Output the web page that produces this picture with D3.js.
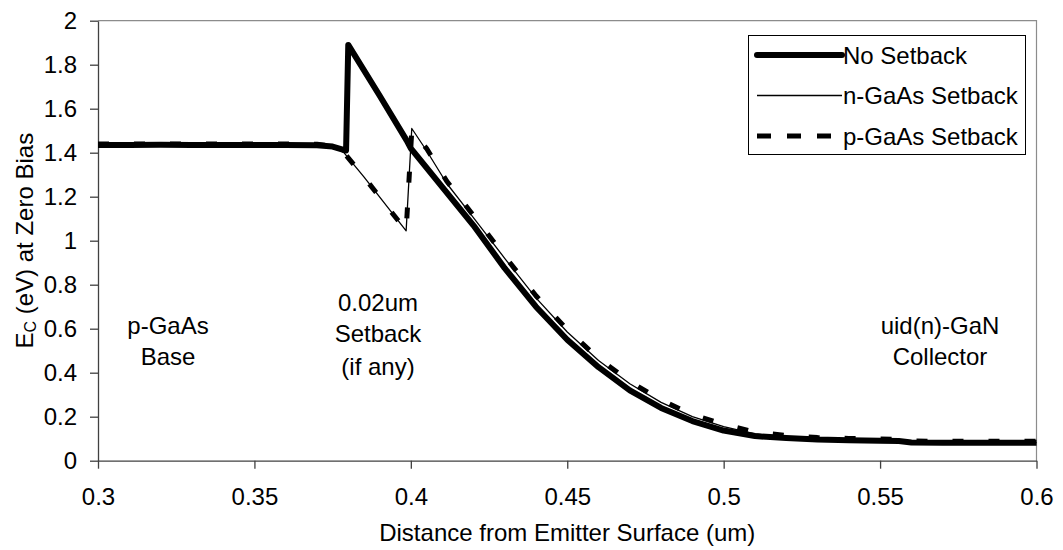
<!DOCTYPE html>
<html>
<head>
<meta charset="utf-8">
<script src="https://cdn.jsdelivr.net/npm/d3@7"></script>
<style>
body{margin:0;background:#fff}
svg text{font-family:"Liberation Sans",Arial,sans-serif;font-size:24px;fill:#000}
</style>
</head>
<body>
<svg id="chart" width="1063" height="550"></svg>
<script>
// distance from emitter surface (um) and conduction band edge (eV)
let noSetbackX = [0.30,0.31,0.32,0.33,0.34,0.35,0.36,0.37,0.375,0.3785,0.3793,0.380,0.390,0.3987,0.40,0.41,0.42,0.43,0.44,0.45,0.46,0.47,0.48,0.49,0.50,0.51,0.52,0.53,0.54,0.55,0.556,0.56,0.57,0.58,0.59,0.60]
let noSetbackY = [1.435,1.435,1.436,1.435,1.435,1.435,1.435,1.434,1.428,1.413,1.41,1.89,1.66,1.455,1.42,1.245,1.07,0.875,0.70,0.55,0.425,0.32,0.24,0.18,0.137,0.112,0.103,0.096,0.093,0.091,0.090,0.083,0.082,0.082,0.082,0.082]

let nSetbackX = [0.30,0.31,0.32,0.33,0.34,0.35,0.36,0.37,0.375,0.3786,0.385,0.3985,0.4003,0.405,0.4115,0.42,0.43,0.44,0.45,0.46,0.47,0.48,0.49,0.50,0.51,0.52,0.53,0.54,0.55,0.556,0.56,0.57,0.58,0.59,0.60]
let nSetbackY = [1.435,1.435,1.435,1.435,1.435,1.435,1.435,1.434,1.428,1.40,1.29,1.045,1.51,1.41,1.26,1.105,0.92,0.74,0.585,0.455,0.35,0.265,0.20,0.155,0.122,0.107,0.098,0.094,0.092,0.091,0.084,0.082,0.082,0.082,0.082]

let pSetbackX = [0.30,0.31,0.32,0.33,0.34,0.35,0.36,0.37,0.375,0.3786,0.385,0.3985,0.4003,0.405,0.4115,0.42,0.43,0.44,0.45,0.46,0.47,0.48,0.49,0.50,0.51,0.52,0.53,0.54,0.55,0.556,0.56,0.57,0.58,0.59,0.60]
let pSetbackY = [1.44,1.44,1.44,1.44,1.44,1.44,1.44,1.438,1.43,1.40,1.29,1.045,1.50,1.42,1.27,1.115,0.93,0.75,0.595,0.465,0.36,0.275,0.21,0.165,0.13,0.115,0.105,0.101,0.099,0.097,0.09,0.088,0.088,0.088,0.088]

let seriesNames = ['No Setback','n-GaAs Setback','p-GaAs Setback']

let xTicks = [0.3,0.35,0.4,0.45,0.5,0.55,0.6]
let xTickLabels = ['0.3','0.35','0.4','0.45','0.5','0.55','0.6']
let yTicks = [0,0.2,0.4,0.6,0.8,1,1.2,1.4,1.6,1.8,2]
let yTickLabels = ['0','0.2','0.4','0.6','0.8','1','1.2','1.4','1.6','1.8','2']

let regionLabels = [['p-GaAs','Base'],['0.02um','Setback','(if any)'],['uid(n)-GaN','Collector']]

let svg = d3.select('#chart')

let margin = {left:98, right:1036.5, top:20.7, bottom:460.7}

let x = d3.scaleLinear()
.domain([0.3,0.6])
.range([margin.left, margin.right])

let y = d3.scaleLinear()
.domain([0,2])
.range([margin.bottom, margin.top])

// plot area frame (top and right are the lighter grey ones)
svg.append('path')
.attr('d', `M${margin.left},${margin.top}H${margin.right}V${margin.bottom}`)
.attr('fill','none')
.attr('stroke','#8c8c8c')
.attr('stroke-width',1.2)

let xAxis = svg.append('g')
.attr('transform', `translate(0,${margin.bottom})`)
.call(d3.axisBottom(x).tickValues(xTicks).tickFormat((d,i)=>xTickLabels[i]).tickSize(8).tickSizeOuter(0).tickPadding(19))

let yAxis = svg.append('g')
.attr('transform', `translate(${margin.left},0)`)
.call(d3.axisLeft(y).tickValues(yTicks).tickFormat((d,i)=>yTickLabels[i]).tickSize(8).tickSizeOuter(0).tickPadding(13))

svg.selectAll('.domain, .tick line')
.attr('stroke','#404040')
.attr('stroke-width',1.3)
svg.selectAll('.tick text')
.attr('font-family','"Liberation Sans",Arial,sans-serif')
.attr('font-size',24)
.attr('fill','#000')

// axis titles
svg.append('text')
.attr('x', (margin.left+margin.right)/2)
.attr('y', 541)
.attr('text-anchor','middle')
.text('Distance from Emitter Surface (um)')

let yTitle = svg.append('text')
.attr('transform', `translate(33,${(margin.top+margin.bottom)/2}) rotate(-90)`)
.attr('text-anchor','middle')
yTitle.append('tspan').text('E')
yTitle.append('tspan').attr('font-size',16).attr('dy',3).text('C')
yTitle.append('tspan').attr('dy',-3).text(' (eV) at Zero Bias')

// curves
let line = d3.line()
.x(d=>x(d[0]))
.y(d=>y(d[1]))

let series = [
    {name:seriesNames[0], pts:d3.zip(noSetbackX, noSetbackY), width:6, dash:null},
    {name:seriesNames[1], pts:d3.zip(nSetbackX, nSetbackY), width:1.3, dash:null},
    {name:seriesNames[2], pts:d3.zip(pSetbackX, pSetbackY), width:5, dash:'11,25'}
]

svg.selectAll('path.curve')
.data(series)
.enter()
.append('path')
.attr('class','curve')
.attr('d', d=>line(d.pts))
.attr('fill','none')
.attr('stroke','#000')
.attr('stroke-width', d=>d.width)
.attr('stroke-dasharray', d=>d.dash)
.attr('stroke-linejoin','round')

// region annotations
let regionPos = [[168,[325,356]],[378,[302,333,366]],[940,[325,356]]]
regionLabels.forEach((lines,i)=>{
    lines.forEach((t,j)=>{
        svg.append('text')
        .attr('x', regionPos[i][0])
        .attr('y', regionPos[i][1][j] + 8.5)
        .attr('text-anchor','middle')
        .text(t)
    })
})

// legend
let legend = svg.append('g')
legend.append('rect')
.attr('x',748.5).attr('y',35.5)
.attr('width',277).attr('height',119)
.attr('fill','#fff')
.attr('stroke','#000')
.attr('stroke-width',1)

let rows = legend.selectAll('g.row')
.data(series)
.enter()
.append('g')
.attr('class','row')
.attr('transform',(d,i)=>`translate(0,${55 + i*40.5})`)

rows.append('line')
.attr('x1',757).attr('x2',842)
.attr('stroke','#000')
.attr('stroke-width',d=>d.width)
.attr('stroke-linecap',(d,i)=>i==0 ? 'round' : 'butt')
.attr('stroke-dasharray',d=>d.dash ? '14,16' : null)

rows.append('text')
.attr('x',843)
.attr('y',8.5)
.text(d=>d.name)
</script>
</body>
</html>
